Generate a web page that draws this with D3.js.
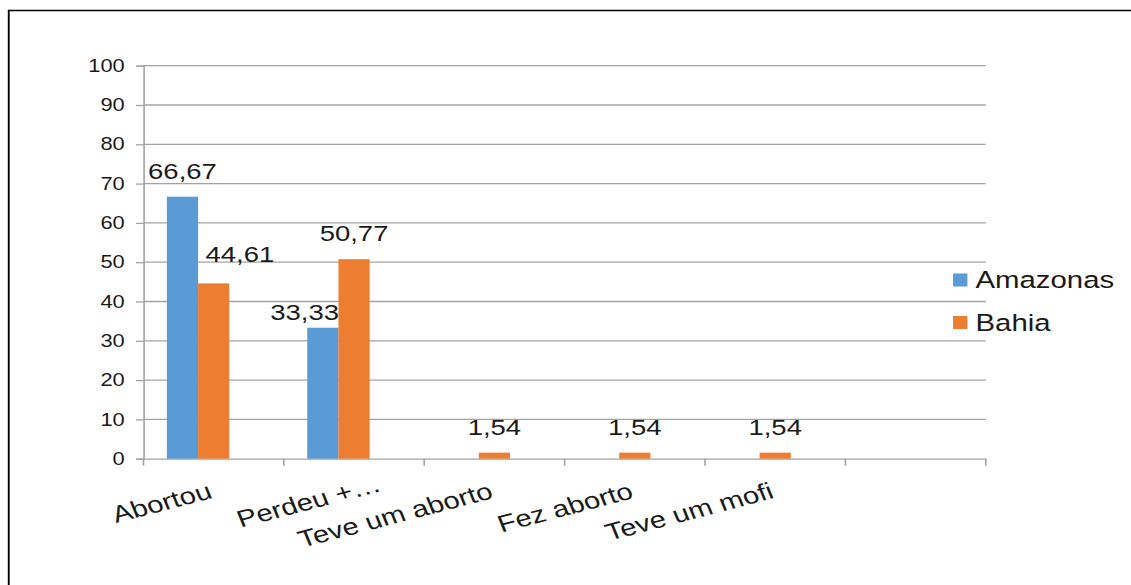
<!DOCTYPE html>
<html>
<head>
<meta charset="utf-8">
<script src="https://cdn.jsdelivr.net/npm/d3@7"></script>
<style>
  html, body { margin: 0; padding: 0; background: #fff; }
  svg { display: block; }
  text { font-family: "Liberation Sans", Arial, sans-serif; fill: #1a1a1a; }
</style>
</head>
<body>
<svg id="chart"></svg>
<script>
// Categories (last slot is an empty category)
const categories = ["Abortou", "Perdeu +…", "Teve um aborto", "Fez aborto", "Teve um mofi", ""];
// Series values (%)
const amazonas = [66.67, 33.33, null, null, null, null];
const bahia    = [44.61, 50.77, 1.54, 1.54, 1.54, null];
const seriesNames = ["Amazonas", "Bahia"];
// Bar slots per category: two series plus one unused slot
const slots = ["Amazonas", "Bahia", "vazio"];
// Y-axis ticks
const yTicks = [0, 10, 20, 30, 40, 50, 60, 70, 80, 90, 100];

const colors = { Amazonas: "#5B9BD5", Bahia: "#ED7D31" };

// Drawing space is 905 wide, stretched across the 1131px window
const W = 905, H = 585;
const svg = d3.select("#chart")
  .attr("width", 1131).attr("height", H)
  .attr("viewBox", `0 0 ${W} ${H}`)
  .attr("preserveAspectRatio", "none");

// Outer frame
svg.append("rect")
  .attr("x", 7).attr("y", 10.5)
  .attr("width", W + 20).attr("height", H + 20)
  .attr("fill", "none").attr("stroke", "#000").attr("stroke-width", 1.5);

const plot = { left: 114.8, right: 788.8, top: 65.7, bottom: 458.7 };

const y = d3.scaleLinear().domain([0, 100]).range([plot.bottom, plot.top]);
const x0 = d3.scaleBand().domain(categories).range([plot.left, plot.right]).padding(0);
const bw = x0.bandwidth();
const gapHalf = bw / 6;
const x1 = d3.scaleBand().domain(slots).range([gapHalf, bw - gapHalf]).padding(0);

// Gridlines
svg.append("g")
  .selectAll("line")
  .data(yTicks.filter(d => d > 0))
  .join("line")
  .attr("x1", plot.left).attr("x2", plot.right)
  .attr("y1", d => y(d)).attr("y2", d => y(d))
  .attr("stroke", "#a3a3a3").attr("stroke-width", 1.3);

// Y axis
const yAxis = svg.append("g")
  .attr("transform", `translate(${plot.left},0)`)
  .call(d3.axisLeft(y).tickValues(yTicks).tickSize(6).tickPadding(9));
yAxis.select(".domain").attr("stroke", "#a3a3a3").attr("stroke-width", 1.3);
yAxis.selectAll(".tick line").attr("stroke", "#a3a3a3").attr("stroke-width", 1.3);
yAxis.selectAll(".tick text")
  .style("font-size", "17.5px").style("font-family", "Liberation Sans, Arial, sans-serif")
  .attr("fill", "#1a1a1a");

// X axis baseline and boundary ticks
const xAxis = svg.append("g")
  .attr("transform", `translate(0,${plot.bottom})`)
  .call(d3.axisBottom(x0).tickSize(0).tickFormat(""));
xAxis.select(".domain").attr("stroke", "#a3a3a3").attr("stroke-width", 1.3);
const boundaries = categories.map(c => x0(c)).concat([x0.range()[1]]);
svg.append("g")
  .selectAll("line")
  .data(boundaries)
  .join("line")
  .attr("x1", d => d).attr("x2", d => d)
  .attr("y1", plot.bottom).attr("y2", plot.bottom + 7)
  .attr("stroke", "#a3a3a3").attr("stroke-width", 1.3);

// Bars
const rows = [];
categories.forEach((c, i) => {
  [["Amazonas", amazonas[i]], ["Bahia", bahia[i]]].forEach(([s, v]) => {
    if (v != null) rows.push({ cat: c, series: s, value: v });
  });
});

svg.append("g")
  .selectAll("rect")
  .data(rows)
  .join("rect")
  .attr("x", d => x0(d.cat) + x1(d.series))
  .attr("width", x1.bandwidth())
  .attr("y", d => y(d.value))
  .attr("height", d => y(0) - y(d.value))
  .attr("fill", d => colors[d.series]);

// Value labels; a couple of them were moved aside to avoid overlapping
const labelNudge = { "Abortou|Bahia": [21, -3], "Perdeu +…|Amazonas": [-14.6, 10] };
svg.append("g")
  .selectAll("text")
  .data(rows)
  .join("text")
  .attr("x", d => x0(d.cat) + x1(d.series) + x1.bandwidth() / 2 + ((labelNudge[d.cat + "|" + d.series] || [0, 0])[0]))
  .attr("y", d => y(d.value) - 18 + ((labelNudge[d.cat + "|" + d.series] || [0, 0])[1]))
  .attr("text-anchor", "middle")
  .style("font-size", "22px")
  .text(d => d.value.toFixed(2).replace(".", ","));

// Category labels, rotated
const catNudge = { "Perdeu +…": [23, -7] };
svg.append("g")
  .selectAll("text")
  .data(categories.filter(c => c !== ""))
  .join("text")
  .attr("transform", c => {
    const n = catNudge[c] || [0, 0];
    return `translate(${x0(c) + bw / 2 + n[0]},${plot.bottom + 39 + n[1]}) rotate(-18)`;
  })
  .attr("text-anchor", "end")
  .style("font-size", "23.5px")
  .text(c => c);

// Legend
const legend = svg.append("g");
seriesNames.forEach((s, i) => {
  const g = legend.append("g").attr("transform", `translate(762.6,${280 + i * 42.5})`);
  g.append("rect").attr("x", 0).attr("y", -6.5).attr("width", 11.5).attr("height", 13).attr("fill", colors[s]);
  g.append("text").attr("x", 18).attr("y", 8).style("font-size", "23.5px").text(s);
});
</script>
</body>
</html>
